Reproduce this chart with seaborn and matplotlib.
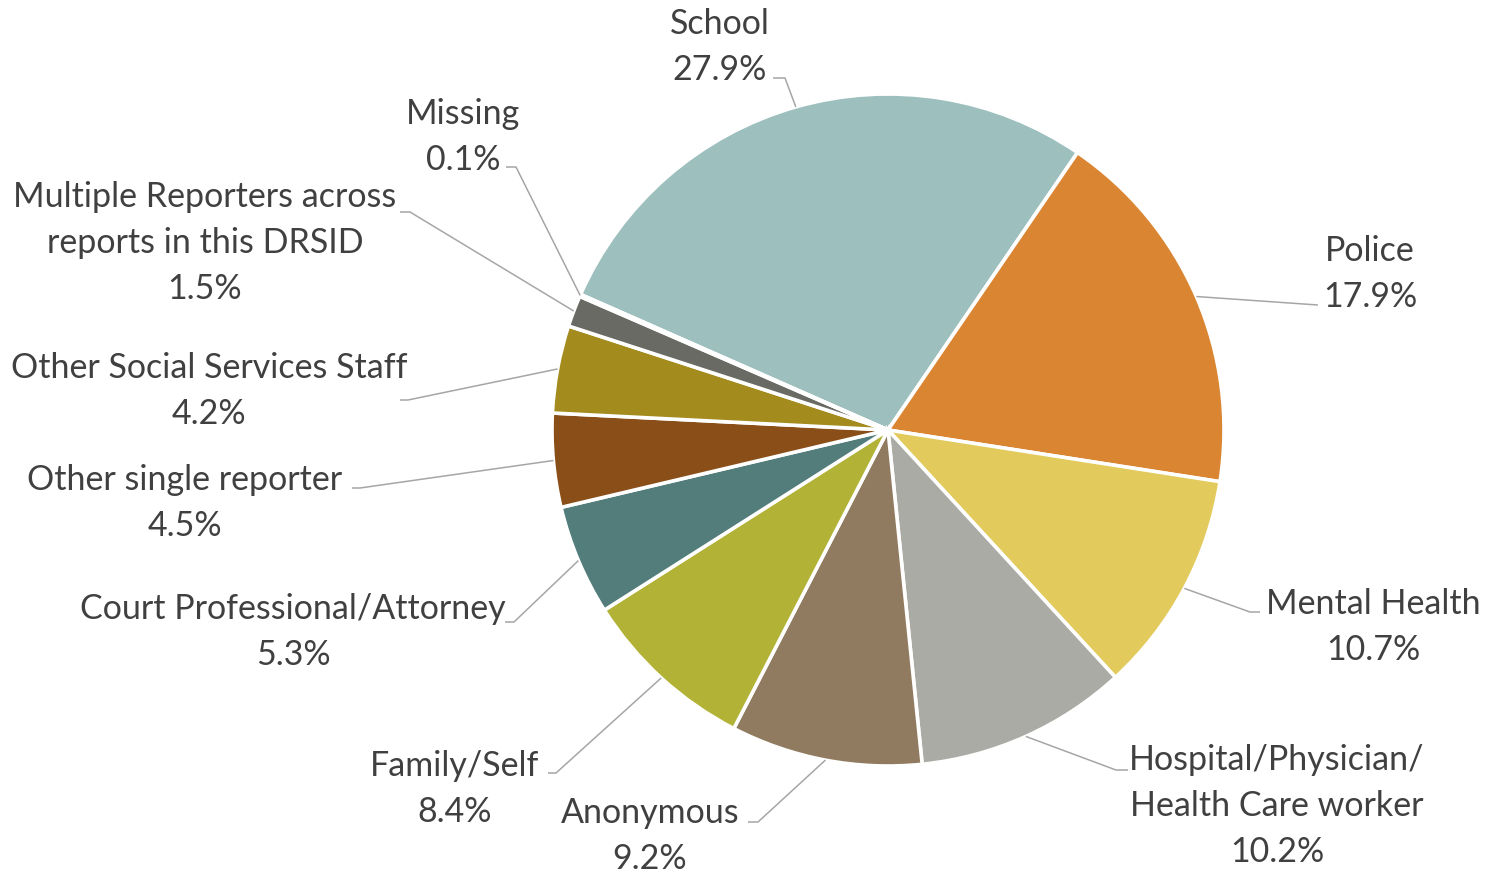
import numpy as np
import matplotlib
matplotlib.use("Agg")
import matplotlib.pyplot as plt
import seaborn as sns

# data
labels = ["School", "Police", "Mental Health", "Hospital/Physician/\nHealth Care worker",
          "Anonymous", "Family/Self", "Court Professional/Attorney", "Other single reporter",
          "Other Social Services Staff", "Multiple Reporters across\nreports in this DRSID", "Missing"]
shares = [27.9, 17.9, 10.7, 10.2, 9.2, 8.4, 5.3, 4.5, 4.2, 1.5, 0.1]
colors = ["#9DBFBE", "#DA8532", "#E2CB5C", "#ABABA6", "#917B60", "#B2B236",
          "#527D7B", "#8A4F19", "#A48B1E", "#6A6A64", "#CFCFCF"]

# layout: label block centre and leader elbow (pixels, y from top)
label_xy = [(720, 47), (1370, 274), (1373, 627), (1277, 806), (650, 836), (455, 789),
            (293, 632), (185, 503), (209, 391), (205, 243), (463, 137)]
elbow_xy = [(785, 78), (1318, 305), (1250, 612), (1116, 770), (758, 822), (556, 773),
            (514, 622), (360, 488), (408, 400), (410, 212), (516, 167)]
tail_dx = [-12, 0, 10, 12, -10, -8, -9, -8, -8, -10, -10]

W, H = 1486, 876
sns.set_theme(style="white")
plt.rcParams["font.family"] = ["Lato", "DejaVu Sans"]

fig = plt.figure(figsize=(W / 100, H / 100), dpi=100)
ax = fig.add_axes([0, 0, 1, 1])

cx, cy, r = 888, H - 430, 336
wedges, _ = ax.pie(shares, colors=sns.color_palette(colors), startangle=156.2,
                   counterclock=False, center=(cx, cy), radius=r,
                   wedgeprops=dict(edgecolor="white", linewidth=2.6))

txt_col = "#404040"
for w, lab, val, (lx, ly), (ex, ey), dx in zip(wedges, labels, shares, label_xy, elbow_xy, tail_dx):
    mid = np.deg2rad((w.theta1 + w.theta2) / 2)
    sx, sy = cx + r * np.cos(mid), cy + r * np.sin(mid)
    ax.plot([sx, ex, ex + dx], [sy, H - ey, H - ey], color="#A6A6A6", lw=1.1,
            solid_capstyle="butt", zorder=1)
    ax.text(lx, H - ly, f"{lab}\n{val:.1f}%", ha="center", va="center",
            fontsize=24.5, color=txt_col, linespacing=1.55)

ax.set_xlim(0, W)
ax.set_ylim(0, H)
ax.set_aspect("equal")
ax.axis("off")

fig.savefig("out.png", dpi=100, facecolor="white")
